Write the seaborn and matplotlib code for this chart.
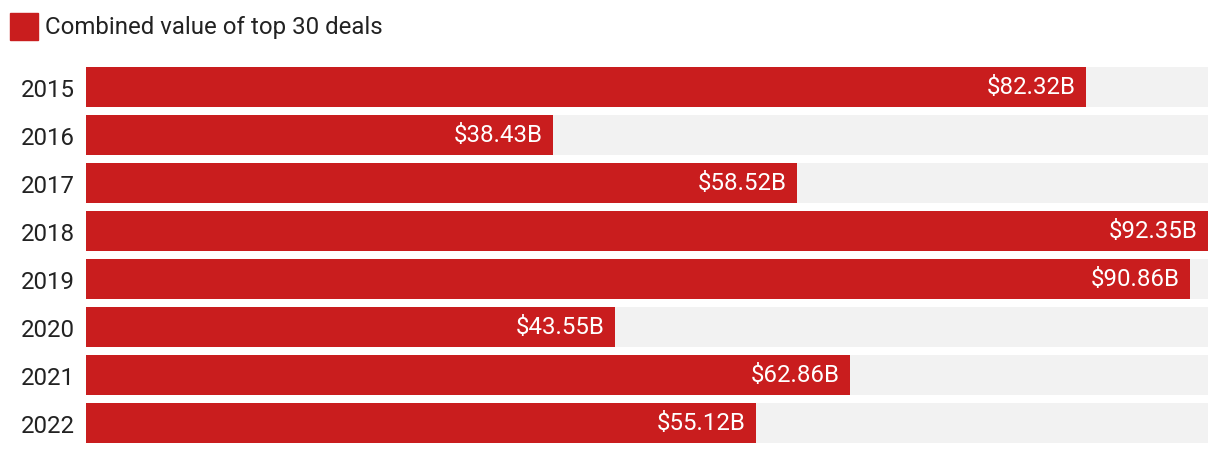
import matplotlib
matplotlib.use("Agg")
import matplotlib.pyplot as plt
from matplotlib.patches import Rectangle
import seaborn as sns
import pandas as pd

years = ["2015", "2016", "2017", "2018", "2019", "2020", "2021", "2022"]
values = [82.32, 38.43, 58.52, 92.35, 90.86, 43.55, 62.86, 55.12]
legend_label = "Combined value of top 30 deals"

RED = "#C91D1E"
GREY = "#F2F2F2"
TEXT = "#222222"
FS = 17.3

sns.set_theme(style="white")
plt.rcParams["font.family"] = ["Roboto", "DejaVu Sans"]

df = pd.DataFrame({"year": years, "value": values})
df["track"] = max(values)

fig = plt.figure(figsize=(12.2, 4.56), dpi=100)
ax = fig.add_axes([86 / 1220, 8 / 456, 1122 / 1220, 384 / 456])

sns.barplot(data=df, x="track", y="year", orient="h", color=GREY,
            width=0.83, saturation=1, linewidth=0, ax=ax)
sns.barplot(data=df, x="value", y="year", orient="h", color=RED,
            width=0.83, saturation=1, linewidth=0, ax=ax)

for i, v in enumerate(values):
    ax.text(v - max(values) * 0.0093, i, f"${v:.2f}B", ha="right", va="center",
            color="white", fontsize=FS)

ax.set_xlim(0, max(values))
ax.set_ylim(7.5, -0.5)
ax.set_xlabel("")
ax.set_ylabel("")
ax.set_xticks([])
ax.tick_params(axis="y", length=0, pad=8, labelsize=FS, labelcolor=TEXT)
sns.despine(ax=ax, left=True, bottom=True)

# legend swatch + label
fig.add_artist(Rectangle((10 / 1220, 1 - 41 / 456), 28 / 1220, 27 / 456,
                         transform=fig.transFigure, color=RED))
fig.text(45 / 1220, 1 - 27.5 / 456, legend_label, ha="left", va="center",
         fontsize=FS, color=TEXT)

fig.savefig("out.png", dpi=100)
